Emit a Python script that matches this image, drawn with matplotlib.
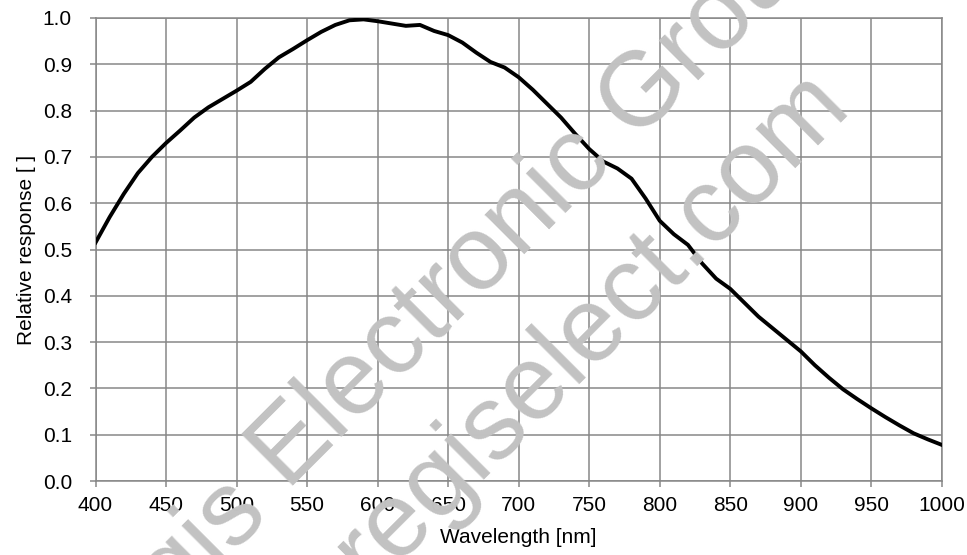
import numpy as np
import matplotlib.pyplot as plt

plt.rcParams['font.family'] = ['Liberation Sans', 'DejaVu Sans']

# spectral response
wavelength = np.arange(400, 1001, 10)
response = [0.515, 0.570, 0.620, 0.665, 0.700, 0.730, 0.757, 0.785, 0.807, 0.825,
            0.843, 0.862, 0.890, 0.915, 0.933, 0.952, 0.970, 0.985, 0.995, 0.997,
            0.993, 0.988, 0.983, 0.985, 0.972, 0.963, 0.947, 0.925, 0.905, 0.893,
            0.872, 0.845, 0.815, 0.785, 0.750, 0.717, 0.690, 0.675, 0.653, 0.610,
            0.562, 0.533, 0.510, 0.470, 0.437, 0.415, 0.385, 0.355, 0.330, 0.305,
            0.280, 0.250, 0.223, 0.198, 0.177, 0.157, 0.138, 0.120, 0.103, 0.090,
            0.078]

xticks = np.arange(400, 1001, 50)
yticks = np.arange(0, 1.01, 0.1)

grid_col = "#878787"
W, H = 967, 555

fig = plt.figure(figsize=(W / 100, H / 100), dpi=100)
ax = fig.add_axes([0.0988, 0.1333, 0.8752, 0.8343])
ax.patch.set_alpha(0)

# watermark, anchored on its baselines (pixel positions from top-left)
wm = dict(color="#c2c2c2", fontsize=76, rotation=45, rotation_mode="anchor",
          va="baseline", zorder=0)
fig.text(268 / W, 1 - 510 / H, "Regis", ha="right", **wm)
fig.text(287 / W, 1 - 491 / H, "Electronic Group", ha="left", **wm)
fig.text(852 / W, 1 - 105 / H, "regiselect.com", ha="right", **wm)

ax.plot(wavelength, response, color="black", lw=2.8, zorder=3,
        solid_joinstyle="round")

ax.set_xlim(400, 1000)
ax.set_ylim(0, 1.0)
ax.set_xticks(xticks)
ax.set_yticks(yticks)
ax.set_yticklabels([f"{v:.1f}" for v in yticks])
ax.grid(True, color=grid_col, lw=1.1, zorder=1)
for s in ax.spines.values():
    s.set_color(grid_col)
    s.set_linewidth(1.1)
ax.tick_params(axis="both", colors=grid_col, labelcolor="black", labelsize=15,
               width=1.1, length=4.5)
ax.tick_params(axis="x", pad=6.5)
ax.tick_params(axis="y", pad=12.5)

ax.set_xlabel("Wavelength [nm]", fontsize=15, labelpad=9)
ax.set_ylabel("Relative response [ ]", fontsize=15, labelpad=5)

fig.savefig("out.png", dpi=100)
